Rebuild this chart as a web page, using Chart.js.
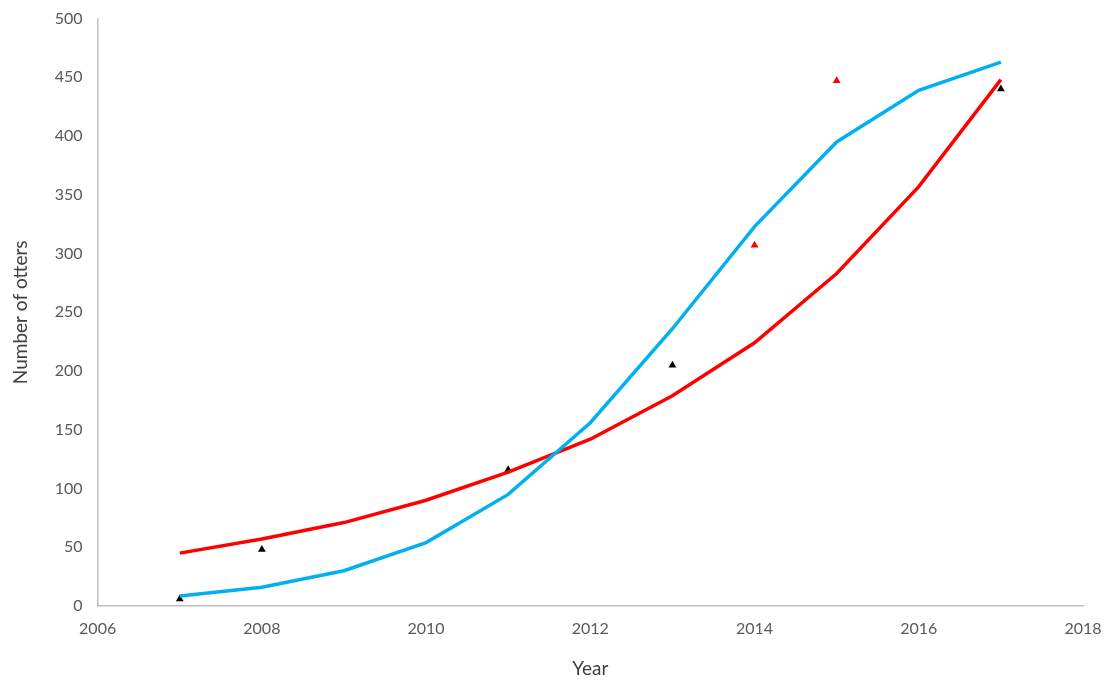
<!DOCTYPE html>
<html><head><meta charset="utf-8">
<script src="https://cdn.jsdelivr.net/npm/chart.js@4/dist/chart.umd.min.js"></script>
<style>html,body{margin:0;padding:0;background:#fff}#w{width:1112px;height:685px}</style>
</head><body><div id="w"><canvas id="c"></canvas></div>
<script>
const years = [2007,2008,2009,2010,2011,2012,2013,2014,2015,2016,2017];
const blueModel = [8.5,16,30,54,95,156,236,323,395,439,463];
const redModel = [45,57,71,90,114,142,179,224,283,357,448];
const blackObsYears = [2007,2008,2011,2013,2017];
const blackObs = [6,48,116,205,440];
const redObsYears = [2014,2015];
const redObs = [307,447];
const pts = (xs, ys) => xs.map((x,i)=>({x:x,y:ys[i]}));
Chart.defaults.font.family = "Lato, 'Open Sans', sans-serif";
Chart.defaults.color = '#595959';
new Chart(document.getElementById('c'), {
  type: 'scatter',
  data: { datasets: [
    {data: pts(years, blueModel), showLine:true, borderColor:'#00b0f0', borderWidth:3.5, pointRadius:0, tension:0},
    {data: pts(years, redModel), showLine:true, borderColor:'#ff0000', borderWidth:3.5, pointRadius:0, tension:0},
    {data: pts(blackObsYears, blackObs), pointStyle:'triangle', pointRadius:4.5, backgroundColor:'#000', borderColor:'#000', borderWidth:0},
    {data: pts(redObsYears, redObs), pointStyle:'triangle', pointRadius:4.5, backgroundColor:'#ff0000', borderColor:'#ff0000', borderWidth:0}
  ]},
  options: {
    responsive:true, maintainAspectRatio:false, animation:false,
    layout:{padding:{top:5,right:29,left:9,bottom:5}},
    plugins:{legend:{display:false}, tooltip:{enabled:false}},
    scales:{
      x:{type:'linear', min:2006, max:2018,
        ticks:{stepSize:2, font:{size:16}, padding:7, callback:v=>String(v)},
        grid:{display:false, drawTicks:true, tickLength:6, color:'#bfbfbf'},
        border:{color:'#bfbfbf', width:1.5},
        title:{display:true, text:'Year', font:{size:19}, color:'#404040', padding:{top:12,bottom:0}}},
      y:{min:0, max:500,
        ticks:{stepSize:50, font:{size:16}, padding:9},
        grid:{display:false, tickLength:6, color:'#bfbfbf'},
        border:{color:'#bfbfbf', width:1.5},
        title:{display:true, text:'Number of otters', font:{size:19}, color:'#404040', padding:{top:0,bottom:14}}}
    }
  }
});
</script></body></html>
